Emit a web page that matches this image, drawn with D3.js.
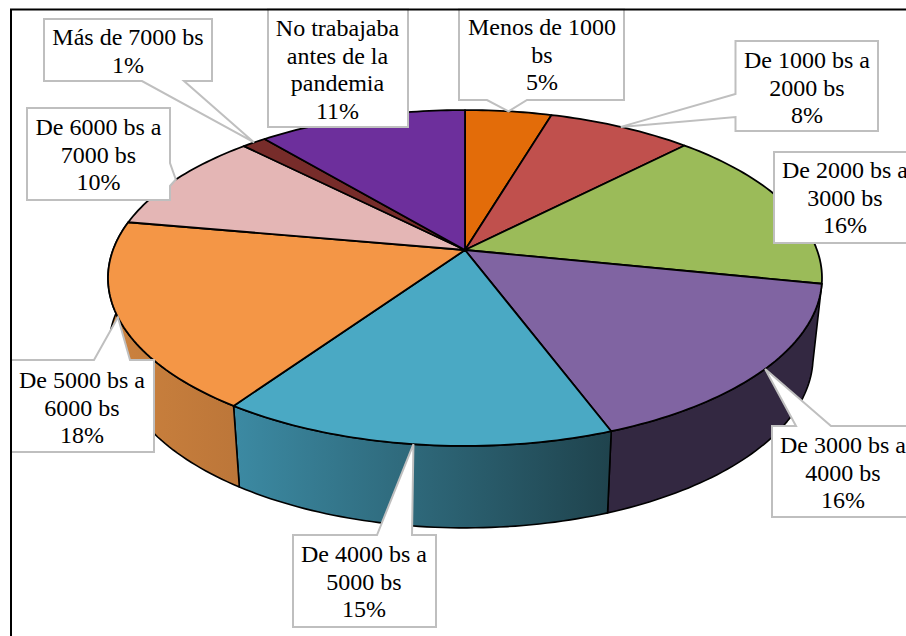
<!DOCTYPE html>
<html><head><meta charset="utf-8">
<script src="https://cdn.jsdelivr.net/npm/d3@7/dist/d3.min.js"></script>
<style>html,body{margin:0;padding:0;background:#fff;overflow:hidden}svg{display:block}</style>
</head><body><svg id="chart" width="906" height="636"></svg>
<script>
// ---- data ----
const categories = [
  ["Menos de 1000","bs"],
  ["De 1000 bs a","2000 bs"],
  ["De 2000 bs a","3000 bs"],
  ["De 3000 bs a","4000 bs"],
  ["De 4000 bs a","5000 bs"],
  ["De 5000 bs a","6000 bs"],
  ["De 6000 bs a","7000 bs"],
  ["Más de 7000 bs"],
  ["No trabajaba","antes de la","pandemia"]
];
const shares = [4.6, 7.7, 15.9, 16.1, 15.3, 18.2, 9.8, 1.3, 11.1];

// ---- styling ----
const topColors  = ["#E36C09","#C0504D","#9BBB59","#8064A2","#4AA9C4","#F49646","#E4B6B5","#772C2A","#6D2F9C"];
const wallLeft   = ["#8A4207","#74302E","#5D7135","#332841","#3C8AA3","#CC823E","#8A6E6D","#471A19","#421C5E"];
const wallRight  = ["#8A4207","#74302E","#5D7135","#332841","#1F434D","#BC7639","#8A6E6D","#471A19","#421C5E"];

// callout layout: box [x0,y0,x1,y1], side carrying the pointer, pointer base, text centre, first baseline
const boxes = [
  {r:[459,9,624,100],  side:"bottom", base:[527,487], cx:542, y:35},
  {r:[735.5,41,878,131], side:"left",  base:[117,94],  cx:807, y:68},
  {r:[774,152,930,243],side:"none",   base:[0,0],     cx:845, y:178},
  {r:[772,426,930,517],side:"top",    base:[796,831], cx:843, y:453},
  {r:[293,535,436,627],side:"top",    base:[377,412], cx:364, y:562},
  {r:[5,360,154,452],  side:"top",    base:[94,130],  cx:82,  y:388},
  {r:[27,108,170,200], side:"right",  base:[163,186], cx:98.5,y:135},
  {r:[44,19,212,81],   side:"bottom", base:[184,142], cx:128, y:45},
  {r:[268,9,408,127],  side:"none",   base:[0,0],     cx:337.5,y:36}
];

const W = 906, H = 636;
const svg = d3.select("#chart");
const defs = svg.append("defs");

// perspective mapping of the unit disc on the screen
const cx = 465, cy = 250, persp = -0.1667;
const sx = d3.scaleLinear().domain([-1,1]).range([cx-352,cx+352]);
const sy = d3.scaleLinear().domain([-1,1]).range([cy-163.3,cy+163.3]);
function project(theta, level){
  const u = Math.sin(theta), v = -Math.cos(theta), w = 1 + persp*v;
  const x = (sx(u)-cx)/w, y = (sy(v)-cy)/w;
  if(level === 0) return [cx+x, cy+y];
  const k = 0.975 + (x < 0 ? 0.03*Math.max(0,1-2*v) : 0);
  return [cx+x*k, cy+y*1.02+78];
}
const centre = [cx,cy];

const pieGen = d3.pie().sort(null).value(d=>d);
const arcs = pieGen(shares);
const line = d3.line();
const sample = (a,b,level)=>{
  const n = Math.max(2,Math.ceil((b-a)/0.02));
  return d3.range(n+1).map(i=>project(a+(b-a)*i/n,level));
};

// side walls of the slices that face the viewer
const mid = a=>(a.startAngle+a.endAngle)/2;
const walls = svg.append("g");
d3.range(arcs.length).filter(i=>Math.cos(mid(arcs[i]))<0).forEach(i=>{
  const a = arcs[i];
  const top = sample(a.startAngle,a.endAngle,0), bot = sample(a.startAngle,a.endAngle,1).reverse();
  const xs = top.concat(bot).map(p=>p[0]);
  const id = "wall"+i;
  const g = defs.append("linearGradient").attr("id",id).attr("gradientUnits","userSpaceOnUse")
    .attr("x1",d3.min(xs)).attr("x2",d3.max(xs)).attr("y1",0).attr("y2",0);
  g.append("stop").attr("offset",0).attr("stop-color",wallLeft[i]);
  g.append("stop").attr("offset",1).attr("stop-color",wallRight[i]);
  walls.append("path").attr("d",line(top.concat(bot))+"Z")
    .attr("fill",`url(#${id})`).attr("stroke","#000").attr("stroke-width",1.6).attr("stroke-linejoin","round");
});

// top faces
svg.append("g").selectAll("path").data(arcs).join("path")
  .attr("d",a=>line([centre].concat(sample(a.startAngle,a.endAngle,0)))+"Z")
  .attr("fill",(a,i)=>topColors[i])
  .attr("stroke","#000").attr("stroke-width",1.8).attr("stroke-linejoin","round");

// callouts
function calloutPath(b,tip){
  const [x0,y0,x1,y1] = b.r, [p,q] = b.base;
  const pts = [[x0,y0]];
  if(b.side==="top") pts.push([p,y0],tip,[q,y0]);
  pts.push([x1,y0]);
  if(b.side==="right") pts.push([x1,p],tip,[x1,q]);
  pts.push([x1,y1]);
  if(b.side==="bottom") pts.push([p,y1],tip,[q,y1]);
  pts.push([x0,y1]);
  if(b.side==="left") pts.push([x0,p],tip,[x0,q]);
  return line(pts)+"Z";
}
const labels = svg.append("g");
arcs.forEach((a,i)=>{
  const b = boxes[i];
  labels.append("path").attr("d",calloutPath(b,project(mid(a),0)))
    .attr("fill","#fff").attr("stroke","#BFBFBF").attr("stroke-width",2);
});
arcs.forEach((a,i)=>{
  const b = boxes[i];
  const rows = categories[i].concat([Math.round(shares[i])+"%"]);
  labels.append("text").attr("text-anchor","middle")
    .attr("font-family","'Liberation Serif','Times New Roman',serif").attr("font-size",24).attr("fill","#000")
    .selectAll("tspan").data(rows).join("tspan")
    .attr("x",b.cx).attr("y",(d,k)=>b.y+k*27.6).text(d=>d);
});

// frame of the chart area: only its top and left edges are in view
svg.append("rect").attr("x",0).attr("y",0).attr("width",10).attr("height",H).attr("fill","#fff");
svg.append("rect").attr("x",0).attr("y",0).attr("width",W).attr("height",8.5).attr("fill","#fff");
svg.append("path").attr("d",line([[11,H],[11,9.5],[W,9.5]]))
  .attr("fill","none").attr("stroke","#000").attr("stroke-width",2);
</script>
</body></html>
